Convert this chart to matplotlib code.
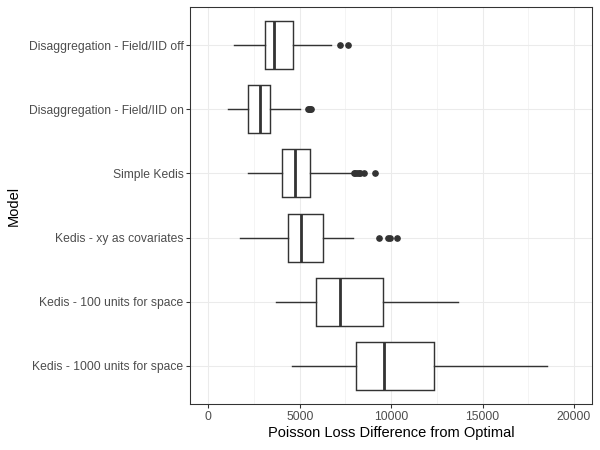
import matplotlib
matplotlib.use("Agg")
import matplotlib.pyplot as plt
from matplotlib.ticker import MultipleLocator

plt.rcParams['font.family'] = ['Liberation Sans', 'DejaVu Sans']

# categories from top to bottom
models = [
    "Disaggregation - Field/IID off",
    "Disaggregation - Field/IID on",
    "Simple Kedis",
    "Kedis - xy as covariates",
    "Kedis - 100 units for space",
    "Kedis - 1000 units for space",
]
whisker_lo = [1400, 1075, 2165, 1730, 3710, 4560]
q1 = [3090, 2180, 4035, 4345, 5870, 8065]
median = [3620, 2855, 4725, 5090, 7230, 9590]
q3 = [4630, 3380, 5560, 6265, 9535, 12340]
whisker_hi = [6690, 5035, 7870, 7920, 13680, 18500]
outliers = [
    [7230, 7630],
    [5430, 5500, 5560, 5640],
    [7950, 8050, 8150, 8250, 8320, 8540, 9100],
    [9320, 9850, 9950, 10320],
    [],
    [],
]
x_ticks = [0, 5000, 10000, 15000, 20000]

n = len(models)
stats = []
for i in range(n):
    stats.append(dict(med=median[i], q1=q1[i], q3=q3[i],
                      whislo=whisker_lo[i], whishi=whisker_hi[i],
                      fliers=outliers[i], label=models[i]))
positions = list(range(n, 0, -1))

fig = plt.figure(figsize=(6.25, 4.6875), dpi=96)
ax = fig.add_axes([190/600, 1-404/450, (592.3-190)/600, 397/450])

edge = '#333333'
ax.bxp(stats, positions=positions, vert=False, widths=0.75, showcaps=False,
       patch_artist=True,
       boxprops=dict(facecolor='white', edgecolor=edge, linewidth=1.07),
       whiskerprops=dict(color=edge, linewidth=1.07),
       medianprops=dict(color=edge, linewidth=2.1, solid_capstyle='butt'),
       flierprops=dict(marker='o', markerfacecolor=edge, markeredgecolor=edge,
                       markersize=4, linestyle='none'),
       zorder=3)

ax.set_xlim(-1000, 21000)
ax.set_ylim(0.4, n + 0.6)
ax.set_xticks(x_ticks)
ax.set_xticklabels([str(t) for t in x_ticks])
ax.xaxis.set_minor_locator(MultipleLocator(2500))
ax.set_yticks(positions)
ax.set_yticklabels(models)

ax.grid(True, which='major', color='#EBEBEB', linewidth=0.8, zorder=0)
ax.grid(True, which='minor', axis='x', color='#EBEBEB', linewidth=0.4, zorder=0)
ax.set_axisbelow(True)

for s in ax.spines.values():
    s.set_color('#333333')
    s.set_linewidth(0.8)

ax.tick_params(axis='both', which='major', length=2.75, width=0.8, color='#333333',
               labelsize=9.1, labelcolor='#4D4D4D', pad=2.2)
ax.tick_params(axis='x', which='minor', length=0)

ax.set_xlabel("Poisson Loss Difference from Optimal", fontsize=11, color='black', labelpad=2.5)
ax.set_ylabel("Model", fontsize=11, color='black', labelpad=5.5)

fig.savefig("out.png", dpi=96)
